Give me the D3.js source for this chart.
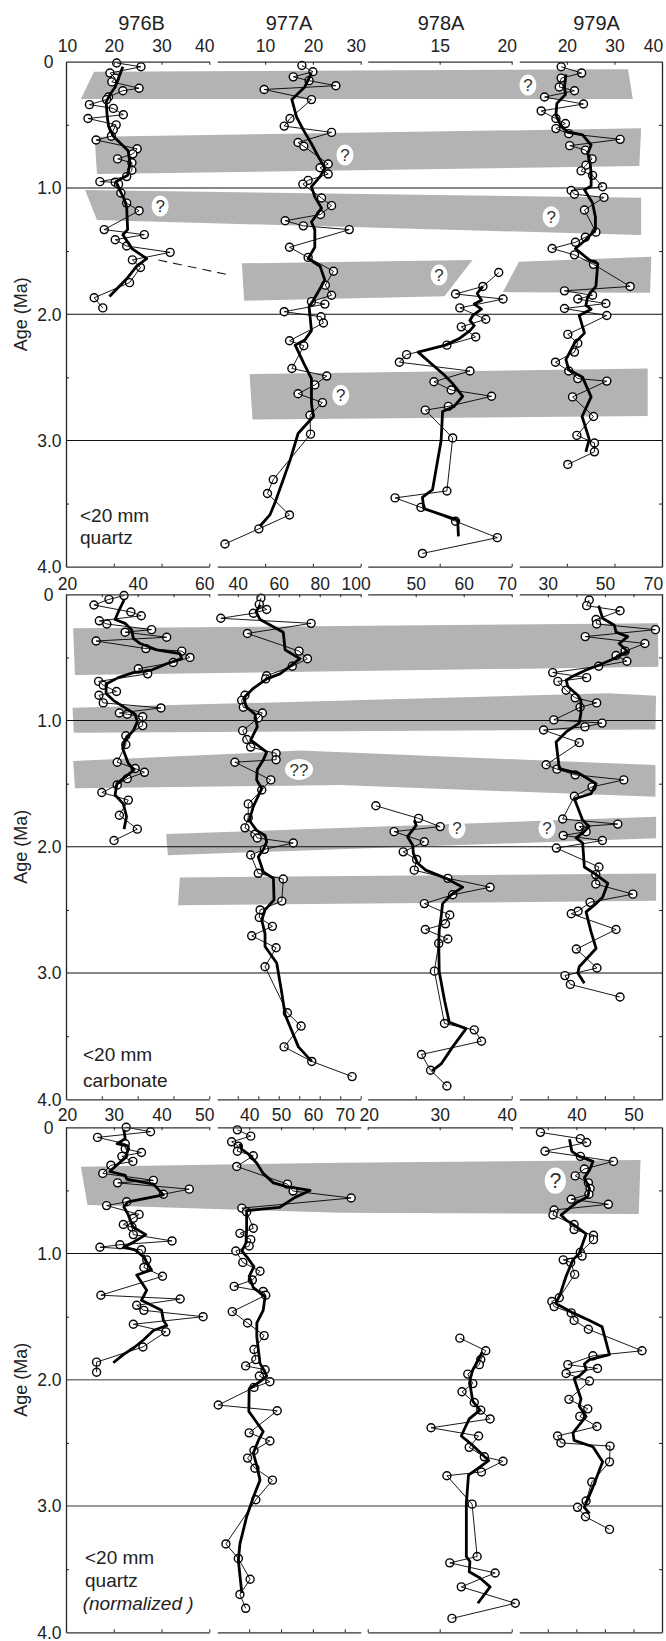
<!DOCTYPE html>
<html><head><meta charset="utf-8">
<script src="https://cdn.jsdelivr.net/npm/d3@7/dist/d3.min.js"></script>
<style>
body{margin:0;background:#fff;}
svg{display:block;font-family:"Liberation Sans",Arial,Helvetica,sans-serif;}
</style></head><body>
<svg id="chart" width="666" height="1641"></svg>
<script>
// ---------------- DATA ----------------
const sites = ["976B","977A","978A","979A"];
const ageTicks = [0,1,2,3,4];
const ageLabels = ["0","1.0","2.0","3.0","4.0"];

// x domains per panel (976B, 977A, 978A, 979A)
const domP1 = [[10,40],[0,30],[10,20],[10,40]];
const domP2 = [[20,60],[30,100],[40,70],[20,70]];
const domP3 = [[20,50],[30,75],[20,40],[30,55]];
const labP1 = [[10,20,30,40],[10,20,30],[15,20],[20,30,40]];
const labP2 = [[20,40,60],[40,60,80,100],[50,60,70],[30,50,70]];
const labP3 = [[20,30,40,50],[40,50,60,70],[20,30,40],[40,50]];
const tickP1 = [[20,30],[10,20,30],[15,20],[20,30]];
const tickP2 = [[30,40,50],[40,50,60,70,80,90,100],[50,60,70],[30,40,50,60]];
const tickP3 = [[30,40],[40,50,60,70],[30,40],[35,40,45,50]];

// Panel 1: <20 mm quartz  [age (Ma), value]
const p1_976B = [[0.01,20.6],[0.04,25.7],[0.09,19.2],[0.13,20.3],[0.16,19.6],[0.21,25.3],[0.23,21.9],[0.28,18.9],[0.30,18.5],[0.34,14.9],[0.37,19.9],[0.42,22.0],[0.45,14.6],[0.50,20.5],[0.54,19.9],[0.59,19.5],[0.62,16.3],[0.69,24.9],[0.73,24.0],[0.77,20.8],[0.80,23.8],[0.86,23.8],[0.91,22.7],[0.95,17.1],[0.955,20.3],[0.97,21.0],[1.04,21.5],[1.12,22.7],[1.18,25.3],[1.33,18.0],[1.37,26.4],[1.41,20.3],[1.46,22.7],[1.51,31.8],[1.57,23.9],[1.63,25.6],[1.75,23.3],[1.87,15.9],[1.95,17.7]];
const p1_976B_fit = [[0.04,21.9],[0.13,21.0],[0.20,20.3],[0.26,19.2],[0.32,18.4],[0.42,18.6],[0.51,18.9],[0.59,19.9],[0.705,23.0],[0.805,23.4],[0.90,22.9],[0.95,20.5],[1.00,21.0],[1.08,22.1],[1.15,22.7],[1.33,22.9],[1.37,21.9],[1.48,23.8],[1.56,26.9],[1.62,24.8],[1.72,22.7],[1.86,19.1]];
const p1_977A = [[0.03,17.7],[0.08,20.0],[0.12,15.9],[0.15,19.2],[0.19,24.8],[0.22,9.8],[0.30,19.7],[0.45,15.2],[0.51,14.0],[0.56,23.9],[0.64,16.9],[0.67,18.1],[0.81,23.2],[0.84,21.5],[0.89,23.2],[0.94,19.0],[0.97,17.9],[1.08,21.8],[1.14,23.9],[1.21,21.6],[1.26,14.2],[1.30,18.0],[1.33,27.6],[1.47,15.1],[1.55,19.0],[1.66,24.3],[1.77,22.6],[1.85,23.9],[1.90,19.7],[1.92,22.5],[1.98,14.0],[2.02,21.7],[2.07,22.2],[2.21,15.1],[2.25,18.1],[2.43,15.6],[2.49,22.9],[2.56,20.4],[2.63,16.9],[2.70,22.0],[2.80,19.4],[2.95,19.5],[3.31,11.7],[3.42,10.5],[3.59,15.1],[3.70,8.7],[3.82,1.6]];
const p1_977A_fit = [[0.09,19.7],[0.20,18.3],[0.30,15.6],[0.44,16.6],[0.54,18.0],[0.65,19.7],[0.75,21.1],[0.845,22.5],[0.91,21.5],[0.99,19.7],[1.07,20.4],[1.16,21.8],[1.27,19.7],[1.33,20.4],[1.47,20.4],[1.56,19.0],[1.62,21.5],[1.73,22.5],[1.89,20.1],[1.94,19.2],[2.13,19.7],[2.205,18.3],[2.245,16.3],[2.39,18.1],[2.51,19.7],[2.71,19.7],[2.81,20.1],[2.945,16.9],[3.16,15.2],[3.31,13.8],[3.49,12.1],[3.59,11.0],[3.68,8.9]];
const p1_978A = [[1.67,19.1],[1.78,18.0],[1.84,16.1],[1.88,19.4],[1.95,16.4],[2.04,18.2],[2.10,16.5],[2.18,17.5],[2.245,15.5],[2.32,12.7],[2.38,12.2],[2.45,17.1],[2.535,14.6],[2.60,15.8],[2.65,18.6],[2.73,15.6],[2.76,14.0],[2.98,15.9],[3.40,15.5],[3.455,11.9],[3.53,13.7],[3.64,16.1],[3.77,19.0],[3.895,13.8]];
const p1_978A_fit = [[1.78,18.0],[1.835,17.6],[1.89,17.9],[1.92,17.4],[1.96,17.9],[2.01,17.3],[2.05,17.1],[2.09,17.4],[2.13,17.1],[2.19,16.4],[2.245,15.4],[2.30,13.5],[2.40,14.5],[2.48,15.3],[2.55,15.9],[2.65,16.6],[2.73,16.0],[2.77,15.2],[3.00,15.1],[3.39,14.5],[3.45,13.8],[3.54,13.9],[3.63,16.25],[3.76,16.3]];
const p1_979A = [[0.04,18.8],[0.09,23.1],[0.13,18.8],[0.20,18.4],[0.23,21.6],[0.28,15.3],[0.335,23.5],[0.39,14.6],[0.45,17.7],[0.49,19.7],[0.53,17.7],[0.57,20.4],[0.615,31.2],[0.665,20.6],[0.70,23.9],[0.77,25.3],[0.82,24.0],[0.865,23.0],[0.90,25.4],[0.99,27.5],[1.02,20.9],[1.05,21.6],[1.075,27.8],[1.175,23.7],[1.35,26.1],[1.39,23.9],[1.43,21.8],[1.48,16.9],[1.53,21.6],[1.605,25.6],[1.78,33.3],[1.815,19.5],[1.85,25.4],[1.88,22.3],[1.915,28.2],[1.955,19.5],[2.01,28.4],[2.16,20.2],[2.23,22.3],[2.30,21.6],[2.38,17.6],[2.45,20.4],[2.51,22.3],[2.53,28.4],[2.655,21.2],[2.81,25.6],[2.96,22.1],[3.02,25.8],[3.09,25.8],[3.19,20.2]];
const p1_979A_fit = [[0.10,19.8],[0.20,19.5],[0.26,19.7],[0.33,17.9],[0.42,17.7],[0.515,18.8],[0.555,20.2],[0.58,23.3],[0.66,25.1],[0.725,24.4],[0.805,24.9],[0.885,25.1],[0.985,25.1],[1.015,23.7],[1.12,25.4],[1.23,26.0],[1.33,26.0],[1.41,24.0],[1.48,21.8],[1.57,24.7],[1.60,26.5],[1.78,26.1],[1.81,25.4],[1.86,24.4],[1.93,24.0],[1.96,25.1],[2.01,22.6],[2.15,23.7],[2.23,21.6],[2.36,19.8],[2.44,20.4],[2.50,23.3],[2.655,25.1],[2.81,23.2],[2.99,24.7],[3.09,24.0]];

// Panel 2: <20 mm carbonate
const p2_976B = [[0.01,36.2],[0.04,32.0],[0.085,27.8],[0.14,38.1],[0.17,41.0],[0.21,29.3],[0.235,31.4],[0.28,43.9],[0.30,36.5],[0.34,48.1],[0.37,28.4],[0.43,42.3],[0.45,52.3],[0.50,54.6],[0.54,49.9],[0.59,40.2],[0.63,42.8],[0.69,29.1],[0.72,30.4],[0.77,34.1],[0.80,29.2],[0.86,30.4],[0.90,46.5],[0.94,34.9],[0.95,37.1],[0.97,41.4],[1.04,41.4],[1.12,36.7],[1.19,36.7],[1.33,34.3],[1.38,39.3],[1.41,41.9],[1.46,37.1],[1.51,34.3],[1.57,30.0],[1.63,37.4],[1.75,34.9],[1.86,39.9],[1.95,33.4]];
const p2_976B_fit = [[0.045,36.2],[0.14,34.6],[0.20,33.7],[0.23,36.5],[0.28,38.3],[0.35,38.8],[0.39,40.7],[0.44,45.3],[0.47,51.8],[0.51,52.3],[0.55,48.1],[0.60,43.9],[0.62,38.8],[0.66,34.6],[0.71,31.2],[0.785,31.2],[0.84,33.2],[0.89,36.0],[0.95,39.3],[1.01,39.9],[1.08,38.8],[1.15,36.5],[1.22,35.8],[1.34,37.4],[1.39,39.0],[1.50,34.2],[1.59,33.7],[1.66,36.0],[1.76,36.9],[1.86,36.2]];
const p2_977A = [[0.03,51.3],[0.08,50.5],[0.12,54.1],[0.15,47.6],[0.19,31.7],[0.23,75.8],[0.31,44.7],[0.45,69.9],[0.51,74.0],[0.57,66.6],[0.645,54.1],[0.67,53.6],[0.80,43.5],[0.84,41.9],[0.895,42.7],[0.94,52.0],[0.98,50.0],[1.08,42.4],[1.15,44.4],[1.21,46.3],[1.26,58.7],[1.31,58.7],[1.33,38.6],[1.47,56.1],[1.55,51.7],[1.66,45.1],[1.77,45.1],[1.85,43.5],[1.90,48.4],[1.93,49.5],[1.97,67.1],[2.02,53.0],[2.065,46.3],[2.21,50.0],[2.255,62.2],[2.43,61.5],[2.50,50.9],[2.56,50.5],[2.63,56.9],[2.705,46.8],[2.80,58.7],[2.95,53.3],[3.315,64.2],[3.42,70.9],[3.585,62.6],[3.70,76.1],[3.82,95.8]];
const p2_977A_fit = [[0.085,50.9],[0.14,48.9],[0.20,50.9],[0.30,62.2],[0.44,63.1],[0.51,70.4],[0.57,65.5],[0.63,60.6],[0.67,54.1],[0.745,47.6],[0.82,43.0],[0.89,44.0],[0.95,48.4],[1.05,49.5],[1.155,46.3],[1.25,54.1],[1.31,52.5],[1.39,49.5],[1.47,49.2],[1.54,51.7],[1.68,47.6],[1.79,45.6],[1.87,49.2],[1.91,53.3],[1.96,54.1],[2.02,52.5],[2.08,50.0],[2.20,52.5],[2.25,57.4],[2.42,57.7],[2.50,53.3],[2.58,51.7],[2.69,53.3],[2.79,53.3],[2.92,59.0],[3.16,61.5],[3.33,63.1],[3.585,69.6],[3.70,76.1]];
const p2_978A = [[1.675,41.7],[1.775,50.6],[1.84,55.1],[1.88,45.5],[1.96,51.8],[2.04,47.4],[2.10,50.2],[2.185,49.7],[2.25,56.7],[2.32,65.5],[2.38,57.7],[2.45,51.8],[2.54,57.1],[2.61,56.2],[2.655,52.0],[2.73,56.7],[2.765,54.8],[2.985,53.9],[3.40,56.0],[3.45,62.2],[3.54,63.7],[3.645,51.2],[3.77,53.1],[3.895,56.5]];
const p2_978A_fit = [[1.79,49.7],[1.83,50.1],[1.92,48.3],[1.99,49.4],[2.05,49.5],[2.13,50.4],[2.185,52.1],[2.25,56.3],[2.32,59.8],[2.38,57.4],[2.45,55.6],[2.555,55.3],[2.66,54.9],[2.765,54.8],[2.99,54.9],[3.215,56.0],[3.39,57.0],[3.44,60.5],[3.585,57.7],[3.72,55.3],[3.775,53.4]];
const p2_979A = [[0.045,44.5],[0.09,43.6],[0.13,55.3],[0.20,46.9],[0.235,47.1],[0.28,67.7],[0.335,43.1],[0.39,64.0],[0.45,57.1],[0.485,53.9],[0.53,57.7],[0.57,47.8],[0.62,31.7],[0.66,43.6],[0.69,33.5],[0.76,36.4],[0.82,39.6],[0.86,47.1],[0.895,41.3],[0.995,32.1],[1.02,49.0],[1.05,43.0],[1.075,28.5],[1.175,41.0],[1.35,29.4],[1.385,33.2],[1.43,39.6],[1.47,56.6],[1.525,45.5],[1.60,39.3],[1.78,35.2],[1.82,54.5],[1.84,41.0],[1.88,43.4],[1.91,35.4],[1.95,49.1],[2.01,33.0],[2.16,47.9],[2.22,46.8],[2.295,46.8],[2.375,59.8],[2.44,44.8],[2.51,40.6],[2.53,38.2],[2.655,53.9],[2.81,40.0],[2.96,47.2],[3.02,36.0],[3.09,37.9],[3.19,55.3]];
const p2_979A_fit = [[0.09,47.8],[0.19,49.2],[0.245,53.3],[0.30,53.9],[0.335,58.0],[0.39,55.0],[0.455,58.0],[0.52,52.1],[0.56,48.0],[0.60,43.4],[0.65,38.7],[0.68,36.4],[0.73,37.0],[0.80,40.5],[0.84,41.6],[0.94,41.6],[1.02,41.0],[1.09,36.4],[1.17,32.9],[1.38,34.0],[1.42,41.0],[1.50,46.9],[1.58,45.1],[1.62,39.3],[1.79,42.2],[1.84,44.5],[1.89,42.2],[1.93,39.9],[1.97,42.2],[2.16,42.8],[2.22,46.9],[2.29,51.0],[2.40,49.2],[2.45,46.9],[2.515,43.4],[2.67,45.1],[2.805,46.9],[2.95,41.0],[3.00,40.5],[3.08,42.8]];

// Panel 3: <20 mm quartz (normalized)
const p3_976B = [[0.00,32.6],[0.035,37.7],[0.08,26.6],[0.13,32.4],[0.17,32.4],[0.20,35.8],[0.23,31.7],[0.27,34.0],[0.30,29.4],[0.365,27.7],[0.42,38.3],[0.44,30.8],[0.49,45.8],[0.53,40.4],[0.59,32.7],[0.62,28.5],[0.69,35.3],[0.72,34.1],[0.77,32.0],[0.79,33.8],[0.85,34.1],[0.90,42.2],[0.93,31.3],[0.95,27.1],[0.97,35.8],[1.05,36.9],[1.11,36.3],[1.18,40.2],[1.33,27.3],[1.36,43.9],[1.41,34.8],[1.45,36.3],[1.50,48.7],[1.56,34.1],[1.62,40.9],[1.74,36.1],[1.86,26.4],[1.94,26.4]];
const p3_976B_fit = [[0.02,32.1],[0.09,32.4],[0.13,30.7],[0.15,33.0],[0.23,32.7],[0.325,29.9],[0.35,29.2],[0.38,32.4],[0.41,32.7],[0.45,38.3],[0.535,40.4],[0.59,33.0],[0.63,32.1],[0.69,33.0],[0.74,33.5],[0.79,34.0],[0.85,36.7],[0.91,34.1],[0.95,32.1],[0.97,34.4],[1.025,36.2],[1.13,37.9],[1.17,34.8],[1.29,36.9],[1.37,35.8],[1.45,40.0],[1.53,40.4],[1.57,41.1],[1.61,38.3],[1.685,36.2],[1.74,34.4],[1.80,32.0],[1.865,29.9]];
const p3_977A = [[0.02,36.3],[0.07,40.5],[0.115,34.5],[0.15,36.6],[0.19,36.3],[0.225,41.3],[0.31,36.1],[0.45,52.0],[0.505,53.8],[0.56,72.0],[0.64,37.7],[0.67,39.2],[0.80,41.3],[0.84,37.1],[0.89,40.5],[0.94,40.0],[0.98,35.8],[1.07,38.0],[1.14,43.4],[1.21,41.0],[1.26,35.3],[1.30,44.4],[1.33,45.2],[1.46,34.7],[1.55,39.5],[1.65,44.7],[1.76,41.5],[1.84,42.1],[1.89,38.9],[1.92,45.0],[1.97,43.2],[2.015,46.5],[2.06,41.5],[2.20,30.3],[2.245,48.8],[2.42,40.0],[2.485,46.5],[2.56,41.5],[2.62,39.5],[2.70,41.8],[2.795,47.3],[2.95,42.1],[3.30,32.7],[3.415,36.6],[3.58,40.3],[3.70,37.1],[3.81,38.9]];
const p3_977A_fit = [[0.13,37.1],[0.175,37.7],[0.21,39.7],[0.285,42.4],[0.365,44.4],[0.44,47.6],[0.47,51.8],[0.50,59.1],[0.555,54.4],[0.635,49.5],[0.66,39.2],[0.815,39.2],[0.915,39.0],[0.98,37.7],[1.03,39.4],[1.105,41.5],[1.18,40.0],[1.27,41.3],[1.34,45.0],[1.45,44.4],[1.55,42.4],[1.66,42.4],[1.765,42.9],[1.87,43.4],[1.94,45.0],[1.97,45.5],[2.015,43.4],[2.07,40.0],[2.25,39.9],[2.41,44.4],[2.48,42.9],[2.58,41.3],[2.68,42.4],[2.795,43.4],[2.93,41.3],[3.085,39.2],[3.30,37.1],[3.43,36.6],[3.69,37.7]];
const p3_978A = [[1.67,32.8],[1.77,36.4],[1.84,35.7],[1.88,35.5],[1.955,33.9],[2.03,34.6],[2.095,33.1],[2.18,34.8],[2.24,35.7],[2.31,37.0],[2.38,28.8],[2.445,35.4],[2.535,34.1],[2.61,36.2],[2.645,38.8],[2.73,35.8],[2.76,31.0],[2.985,34.5],[3.40,35.2],[3.45,31.4],[3.53,37.7],[3.64,33.0],[3.77,40.5],[3.89,31.7]];
const p3_978A_fit = [[1.78,35.9],[1.85,35.3],[1.92,34.6],[2.00,34.2],[2.07,34.3],[2.17,34.6],[2.24,35.6],[2.31,34.1],[2.37,33.6],[2.445,33.0],[2.52,34.6],[2.58,35.7],[2.64,36.8],[2.69,35.6],[2.755,34.0],[2.98,33.7],[3.40,33.7],[3.44,34.2],[3.52,34.1],[3.57,35.6],[3.64,37.0],[3.77,35.3]];
const p3_979A = [[0.04,33.7],[0.09,40.7],[0.12,41.8],[0.19,34.5],[0.23,40.7],[0.27,46.5],[0.33,41.4],[0.385,39.8],[0.44,42.1],[0.485,42.4],[0.53,42.2],[0.57,39.1],[0.61,45.6],[0.655,36.1],[0.695,35.9],[0.77,39.6],[0.81,39.6],[0.855,43.0],[0.89,43.0],[0.99,40.7],[1.02,41.0],[1.05,37.7],[1.07,39.0],[1.165,39.7],[1.35,37.0],[1.38,35.7],[1.42,36.1],[1.47,39.1],[1.53,39.6],[1.60,42.1],[1.77,51.5],[1.81,42.9],[1.88,38.5],[1.91,43.7],[1.95,38.2],[2.01,42.3],[2.155,38.7],[2.23,42.0],[2.29,40.6],[2.37,43.6],[2.445,36.7],[2.50,37.3],[2.525,45.9],[2.65,45.8],[2.81,42.7],[2.96,41.7],[3.01,40.2],[3.085,41.6],[3.185,45.8]];
const p3_979A_fit = [[0.095,38.8],[0.19,39.2],[0.23,40.5],[0.27,42.9],[0.34,42.3],[0.40,41.4],[0.485,42.3],[0.55,42.0],[0.60,39.9],[0.695,37.3],[0.735,38.2],[0.775,39.6],[0.845,41.7],[0.92,41.1],[1.00,40.5],[1.05,39.4],[1.18,38.2],[1.33,37.1],[1.395,36.4],[1.47,39.4],[1.53,42.3],[1.58,44.5],[1.80,45.8],[1.84,42.3],[1.875,41.4],[1.92,41.7],[1.97,40.5],[1.99,39.6],[2.15,40.8],[2.21,40.5],[2.29,41.7],[2.42,39.4],[2.48,39.6],[2.53,42.9],[2.65,44.6],[2.85,42.9],[3.01,41.4],[3.06,42.3]];

// Gray bands: vertices as [fraction of plot width, age]
const bandsP1 = [
  [[0.047,0.079],[0.943,0.060],[0.951,0.296],[0.025,0.296]],
  [[0.048,0.594],[0.965,0.528],[0.962,0.826],[0.052,0.890]],
  [[0.032,1.017],[0.965,1.078],[0.965,1.373],[0.052,1.254]],
  [[0.295,1.597],[0.682,1.571],[0.635,1.857],[0.299,1.894]],
  [[0.760,1.585],[0.982,1.545],[0.980,1.830],[0.733,1.825]],
  [[0.308,2.475],[0.976,2.430],[0.976,2.807],[0.313,2.834]]
];
const bandsP2 = [
  [[0.012,0.269],[0.993,0.230],[0.994,0.574],[0.015,0.639]],
  [[0.011,0.899],[0.909,0.784],[0.990,0.803],[0.989,1.070],[0.013,1.097]],
  [[0.012,1.321],[0.393,1.238],[0.989,1.353],[0.989,1.604],[0.460,1.511],[0.015,1.537]],
  [[0.168,1.899],[0.990,1.762],[0.990,1.933],[0.171,2.066]],
  [[0.191,2.243],[0.990,2.211],[0.990,2.428],[0.188,2.462]]
];
const bandsP3 = [
  [[0.025,0.312],[0.460,0.281],[0.964,0.259],[0.961,0.687],[0.460,0.677],[0.036,0.616]]
];
const dashP1 = [[0.155,1.571],[0.275,1.690]];

// Question marks: [fraction of width, age, text, size]
const qP1 = [[0.775,0.185,"?",1],[0.468,0.739,"?",1],[0.158,1.143,"?",1],[0.814,1.228,"?",1],[0.626,1.690,"?",1],[0.461,2.641,"?",1]];
const qP2 = [[0.391,1.387,"??",1],[0.656,1.854,"?",1],[0.807,1.854,"?",1]];
const qP3 = [[0.821,0.423,"?",1.25]];

const textP1 = ["<20 mm","quartz"];
const textP2 = ["<20 mm","carbonate"];
const textP3 = ["<20 mm","quartz","(normalized )"];

// ---------------- LAYOUT ----------------
const plotL = 66, plotR = 662;
const colRanges = [[66,209.3],[217.3,360.7],[367.7,511.7],[519.3,662]];
const panelH = 505;
const titleX = [141.5,289,441,596.5];

const panels = [
  {top:61.7, dom:domP1, lab:labP1, tick:tickP1, pad:10, bands:bandsP1, qs:qP1, texts:textP1, textY:[459.8,481.8], textX:[80,80],
   series:[[p1_976B,p1_976B_fit],[p1_977A,p1_977A_fit],[p1_978A,p1_978A_fit],[p1_979A,p1_979A_fit]], dash:dashP1},
  {top:594.3, dom:domP2, lab:labP2, tick:tickP2, pad:4.5, bands:bandsP2, qs:qP2, texts:textP2, textY:[466.2,492.2], textX:[83,83],
   series:[[p2_976B,p2_976B_fit],[p2_977A,p2_977A_fit],[p2_978A,p2_978A_fit],[p2_979A,p2_979A_fit]]},
  {top:1127.3, dom:domP3, lab:labP3, tick:tickP3, pad:6, bands:bandsP3, qs:qP3, texts:textP3, textY:[436.7,459.7,482.7], textX:[85,85,82.7],
   series:[[p3_976B,p3_976B_fit],[p3_977A,p3_977A_fit],[p3_978A,p3_978A_fit],[p3_979A,p3_979A_fit]]}
];

const svg = d3.select("#chart");
const fx = d3.scaleLinear().domain([0,1]).range([plotL, plotR]);

// titles
svg.selectAll("text.title").data(sites).enter().append("text")
  .attr("x",(d,i)=>titleX[i]).attr("y",30)
  .attr("text-anchor","middle").attr("font-size",20).attr("fill","#222").text(d=>d);

panels.forEach((P,pi)=>{
  const g = svg.append("g");
  const y = d3.scaleLinear().domain([0,4]).range([P.top, P.top+panelH]);

  // bands
  g.selectAll("path.band").data(P.bands).enter().append("path")
    .attr("d", b => d3.line().x(d=>fx(d[0])).y(d=>y(d[1]))(b) + "Z")
    .attr("fill","#b3b3b3").attr("stroke","none");

  // horizontal lines
  g.selectAll("line.h").data([1,2,3]).enter().append("line")
    .attr("x1",plotL).attr("x2",plotR).attr("y1",d=>y(d)).attr("y2",d=>y(d))
    .attr("stroke", d => (pi===2 && d>1) ? "#777" : "#111").attr("stroke-width", d => (pi===2 && d>1) ? 1.6 : 1.1);

  if (P.dash) {
    g.append("path").attr("d", d3.line().x(d=>fx(d[0])).y(d=>y(d[1]))(P.dash))
      .attr("stroke","#222").attr("stroke-width",1.1).attr("stroke-dasharray","9,6").attr("fill","none");
  }

  // data
  P.series.forEach((s,si)=>{
    const x = d3.scaleLinear().domain(P.dom[si]).range(colRanges[si]);
    const pts = s[0].slice().sort((a,b)=>a[0]-b[0]);
    const fit = s[1];
    const line = d3.line().x(d=>x(d[1])).y(d=>y(d[0]));
    g.selectAll(null).data(pts).enter().append("circle")
      .attr("cx",d=>x(d[1])).attr("cy",d=>y(d[0])).attr("r",4)
      .attr("fill","#fff").attr("stroke","#000").attr("stroke-width",1.4);
    g.append("path").attr("d",line(pts)).attr("fill","none").attr("stroke","#000").attr("stroke-width",0.9);
    g.append("path").attr("d",line(fit)).attr("fill","none").attr("stroke","#000")
      .attr("stroke-width",2.8).attr("stroke-linejoin","round");
  });

  // question marks
  P.qs.forEach(q=>{
    const cx = fx(q[0]), cy = y(q[1]), k = q[3];
    const rx = (q[2].length>1 ? 14 : 8.5)*k, ry = 10.5*k;
    g.append("ellipse").attr("cx",cx).attr("cy",cy).attr("rx",rx).attr("ry",ry).attr("fill","#fff");
    g.append("text").attr("x",cx).attr("y",cy).attr("dy","0.36em").attr("text-anchor","middle")
      .attr("font-size",17*k).attr("fill","#333").text(q[2]);
  });

  // left / right frame axes
  const axL = d3.axisRight(y).tickValues([0.5,1.5,2.5,3.5]).tickSize(3).tickSizeOuter(0).tickFormat("");
  const axR = d3.axisLeft(y).tickValues([0.5,1.5,2.5,3.5]).tickSize(3).tickSizeOuter(0).tickFormat("");
  g.append("g").attr("transform",`translate(${plotL},0)`).call(axL).attr("color","#222")
    .call(a=>a.select(".domain").attr("stroke-width",1.3));
  g.append("g").attr("transform",`translate(${plotR},0)`).call(axR).attr("color","#222")
    .call(a=>a.select(".domain").attr("stroke-width",1.3));

  // top & bottom segmented axes
  sites.forEach((s,si)=>{
    const dom = P.dom[si];
    const x = d3.scaleLinear().domain(dom).range(colRanges[si]);
    const labs = P.lab[si];
    const vals = Array.from(new Set(P.tick[si].concat(labs))).sort((a,b)=>a-b);
    const top = d3.axisTop(x).tickValues(vals).tickSize(-3).tickSizeOuter(0).tickPadding(P.pad)
      .tickFormat(d => labs.includes(d) ? String(d) : "");
    const gt = g.append("g").attr("transform",`translate(0,${P.top})`).call(top).attr("color","#333");
    gt.select(".domain").attr("stroke-width",1.3);
    gt.selectAll(".tick line").attr("stroke-width",1.1);
    gt.selectAll(".tick text").attr("font-size",17.5).attr("font-family","Liberation Sans, Arial, sans-serif")
      .attr("fill","#222")
      .attr("dx", d => d===dom[1] ? (si===3 ? -9 : -5) : (d===dom[0] ? 1 : 0));
    const bot = d3.axisBottom(x).tickValues(vals).tickSize(-3).tickSizeOuter(0).tickFormat("");
    const gb = g.append("g").attr("transform",`translate(0,${P.top+panelH})`).call(bot).attr("color","#333");
    gb.select(".domain").attr("stroke-width",1.3);
    gb.selectAll(".tick line").attr("stroke-width",1.1);
  });

  // age labels
  g.selectAll("text.age").data(ageTicks).enter().append("text")
    .attr("x", d => d===0 ? 53.5 : 61.5).attr("y", d=>y(d)).attr("dy","0.36em")
    .attr("text-anchor","end").attr("font-size",17.5).attr("fill","#222")
    .text((d,i)=>ageLabels[i]);

  // axis title
  g.append("text").attr("transform",`translate(27,${P.top+panelH/2}) rotate(-90)`)
    .attr("text-anchor","middle").attr("font-size",18).attr("fill","#222").text("Age (Ma)");

  // panel label text
  P.texts.forEach((t,ti)=>{
    g.append("text").attr("x",P.textX[ti]).attr("y",P.top+P.textY[ti])
      .attr("font-size",19).attr("fill","#222")
      .attr("font-style", t.startsWith("(") ? "italic" : "normal").text(t);
  });
});
</script>
</body></html>
